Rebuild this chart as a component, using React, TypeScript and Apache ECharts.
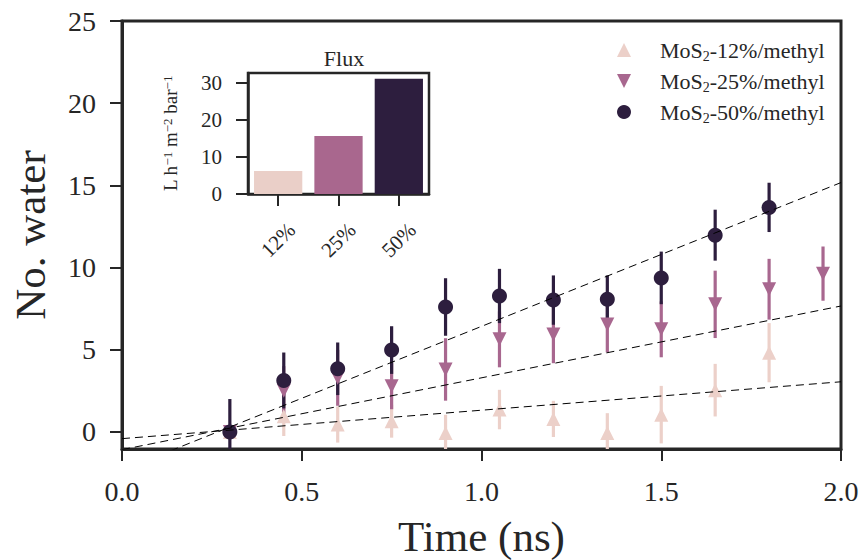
import React, { useEffect, useRef } from "react";
import * as echarts from "echarts";

// ---- data ----
const times12 = [0.3, 0.45, 0.6, 0.75, 0.9, 1.05, 1.2, 1.35, 1.5, 1.65, 1.8];
const vals12 = [0.0, 0.95, 0.45, 0.65, -0.06, 1.36, 0.79, -0.06, 1.05, 2.54, 4.82];
const err12 = [0.2, 1.2, 1.1, 1.0, 1.1, 1.2, 1.1, 1.2, 1.75, 1.6, 1.8];

const times25 = [0.3, 0.45, 0.6, 0.75, 0.9, 1.05, 1.2, 1.35, 1.5, 1.65, 1.8, 1.95];
const vals25 = [0.0, 2.5, 3.29, 2.78, 3.8, 5.63, 5.93, 6.54, 6.24, 7.76, 8.68, 9.63];
const err25 = [0.3, 1.5, 1.7, 1.4, 1.9, 1.7, 1.75, 1.7, 1.7, 2.05, 1.85, 1.65];

const times50 = [0.3, 0.45, 0.6, 0.75, 0.9, 1.05, 1.2, 1.35, 1.5, 1.65, 1.8];
const vals50 = [0.0, 3.13, 3.84, 4.98, 7.6, 8.27, 8.02, 8.07, 9.37, 11.97, 13.66];
const err50 = [2.0, 1.7, 1.6, 1.45, 1.75, 1.65, 1.5, 1.45, 1.6, 1.55, 1.5];

// linear fits (slope, intercept) per series
const fitSlopes = [1.73, 4.37, 8.75];
const fitIntercepts = [-0.41, -1.08, -2.33];

const seriesNames = ["MoS2-12%/methyl", "MoS2-25%/methyl", "MoS2-50%/methyl"];
const seriesColors = ["#ecd0c9", "#a8678f", "#2d1e3e"];

const xTicks = [0, 0.5, 1.0, 1.5, 2.0];
const yTicks = [0, 5, 10, 15, 20, 25];

const fluxCats = ["12%", "25%", "50%"];
const fluxVals = [6.2, 15.7, 31.15];
const fluxColors = ["#eacfc8", "#a9678e", "#2d1e3e"];
const fluxTicks = [0, 10, 20, 30];

const FONT = "'Liberation Serif', 'DejaVu Serif', serif";
const TXT = "#262626";

export default function App() {
  const ref = useRef<HTMLDivElement>(null);
  useEffect(() => {
    if (!ref.current) return;
    const chart = echarts.init(ref.current, undefined, { renderer: "svg" });

    const groups = [
      { t: times12, v: vals12, e: err12, symbol: "triangle" },
      { t: times25, v: vals25, e: err25, symbol: "path://M0,0L2,0L1,2Z" },
      { t: times50, v: vals50, e: err50, symbol: "circle" },
    ];

    const series: any[] = [];
    groups.forEach((g, i) => {
      const color = seriesColors[i];
      series.push({
        type: "custom",
        name: "err" + i,
        xAxisIndex: 0,
        yAxisIndex: 0,
        data: g.t.map((t, k) => [t, g.v[k], g.e[k]]),
        encode: { x: 0, y: 1 },
        renderItem: (params: any, api: any) => {
          const x = api.value(0);
          const y = api.value(1);
          const e = api.value(2);
          const top = api.coord([x, y + e]);
          const bot = api.coord([x, y - e]);
          const cs = params.coordSys;
          const y1 = Math.max(cs.y, Math.min(cs.y + cs.height, top[1]));
          const y2 = Math.max(cs.y, Math.min(cs.y + cs.height, bot[1]));
          return {
            type: "line",
            shape: { x1: top[0], y1, x2: bot[0], y2 },
            style: { stroke: color, lineWidth: 3.2 },
          };
        },
        z: 2,
      });
      series.push({
        type: "scatter",
        name: seriesNames[i],
        xAxisIndex: 0,
        yAxisIndex: 0,
        symbol: g.symbol,
        symbolSize: i === 2 ? 15 : 14,
        itemStyle: { color, opacity: 1 },
        data: g.t.map((t, k) => [t, g.v[k]]),
        z: 2,
      });
    });
    fitSlopes.forEach((m, i) => {
      series.push({
        type: "line",
        name: "fit" + i,
        xAxisIndex: 0,
        yAxisIndex: 0,
        symbol: "none",
        clip: true,
        lineStyle: { color: "#000", width: 1, type: [8, 5] },
        data: [
          [0, fitIntercepts[i]],
          [2, m * 2 + fitIntercepts[i]],
        ],
        z: 3,
      });
    });
    series.push({
      type: "bar",
      name: "flux",
      xAxisIndex: 1,
      yAxisIndex: 1,
      barWidth: "80%",
      data: fluxVals.map((v, i) => ({ value: v, itemStyle: { color: fluxColors[i] } })),
    });

    const legendRich = {
      a: { fontSize: 22, fontFamily: FONT, color: TXT, lineHeight: 22, verticalAlign: "top" },
      b: { fontSize: 14, fontFamily: FONT, color: TXT, lineHeight: 14, verticalAlign: "top", padding: [10, 0, 0, 0] },
    };

    const option: any = {
      animation: false,
      backgroundColor: "#fff",
      textStyle: { fontFamily: FONT },
      title: {
        text: "Flux",
        left: 339,
        top: 42,
        textAlign: "center",
        textStyle: { fontSize: 22, fontWeight: "normal", color: TXT, fontFamily: FONT },
      },
      legend: {
        data: seriesNames,
        orient: "vertical",
        left: 612,
        top: 34,
        itemWidth: 14,
        itemHeight: 14,
        itemGap: 7,
        formatter: (name: string) => {
          const rest = name.replace("MoS2", "");
          return "{a|MoS}{b|2}{a|" + rest + "}";
        },
        textStyle: { rich: legendRich, padding: [0, 0, 0, 24] },
      },
      grid: [
        {
          left: 122, top: 21, right: 24, bottom: 111, show: true, borderColor: TXT, borderWidth: 3,
          containLabel: false, outerBoundsMode: "none",
        },
        {
          left: 248, top: 73, width: 181, height: 121, show: true, borderColor: TXT, borderWidth: 2.5,
          backgroundColor: "#fff", containLabel: false, outerBoundsMode: "none",
        },
      ],
      xAxis: [
        {
          type: "value",
          gridIndex: 0,
          min: 0,
          max: 2,
          interval: 0.5,
          splitLine: { show: false },
          axisLine: { show: true, onZero: false, lineStyle: { color: TXT, width: 3 } },
          axisTick: { show: true, inside: false, length: 12, lineStyle: { color: TXT, width: 2 } },
          axisLabel: {
            fontSize: 28,
            color: TXT,
            fontFamily: FONT,
            margin: 28,
            formatter: (v: number) => v.toFixed(1),
          },
          name: "Time (ns)",
          nameLocation: "middle",
          nameGap: 66,
          nameTextStyle: { fontSize: 43, color: TXT, fontFamily: FONT },
        },
        {
          type: "category",
          gridIndex: 1,
          data: fluxCats,
          axisLine: { show: true, lineStyle: { color: TXT, width: 2.5 } },
          axisTick: { show: true, inside: false, alignWithLabel: true, length: 12, lineStyle: { color: TXT, width: 2 } },
          axisLabel: {
            fontSize: 21,
            color: TXT,
            fontFamily: FONT,
            rotate: 45,
            align: "center",
            verticalAlign: "middle",
            margin: 46,
          },
        },
      ],
      yAxis: [
        {
          type: "value",
          gridIndex: 0,
          min: -1.04,
          max: 25,
          splitLine: { show: false },
          axisLine: { show: true, onZero: false, lineStyle: { color: TXT, width: 3 } },
          axisTick: { show: true, inside: false, length: 12, customValues: yTicks, lineStyle: { color: TXT, width: 2 } },
          axisLabel: {
            fontSize: 28,
            color: TXT,
            fontFamily: FONT,
            margin: 26,
            customValues: yTicks,
            formatter: (v: number) => String(Math.round(v)),
          },
          name: "No. water",
          nameLocation: "middle",
          nameGap: 70,
          nameTextStyle: { fontSize: 43, color: TXT, fontFamily: FONT },
        },
        {
          type: "value",
          gridIndex: 1,
          min: 0,
          max: 32.7,
          splitLine: { show: false },
          axisLine: { show: true, lineStyle: { color: TXT, width: 2.5 } },
          axisTick: { show: true, inside: false, length: 12, customValues: fluxTicks, lineStyle: { color: TXT, width: 2 } },
          axisLabel: {
            fontSize: 21,
            color: TXT,
            fontFamily: FONT,
            margin: 26,
            customValues: fluxTicks,
          },
          name: "{n|L h}{s|−1}{n| m}{s|−2}{n| bar}{s|−1}",
          nameLocation: "middle",
          nameGap: 68,
          nameTextStyle: {
            rich: {
              n: { fontSize: 19, fontFamily: FONT, color: TXT, verticalAlign: "top", lineHeight: 19 },
              s: { fontSize: 13, fontFamily: FONT, color: TXT, verticalAlign: "top", lineHeight: 13 },
            },
          },
        },
      ],
      series,
    };
    chart.setOption(option);
    return () => chart.dispose();
  }, []);
  return (
    <div
      ref={ref}
      style={{ position: "absolute", left: 0, top: 0, width: 865, height: 560, background: "#fff" }}
    />
  );
}
